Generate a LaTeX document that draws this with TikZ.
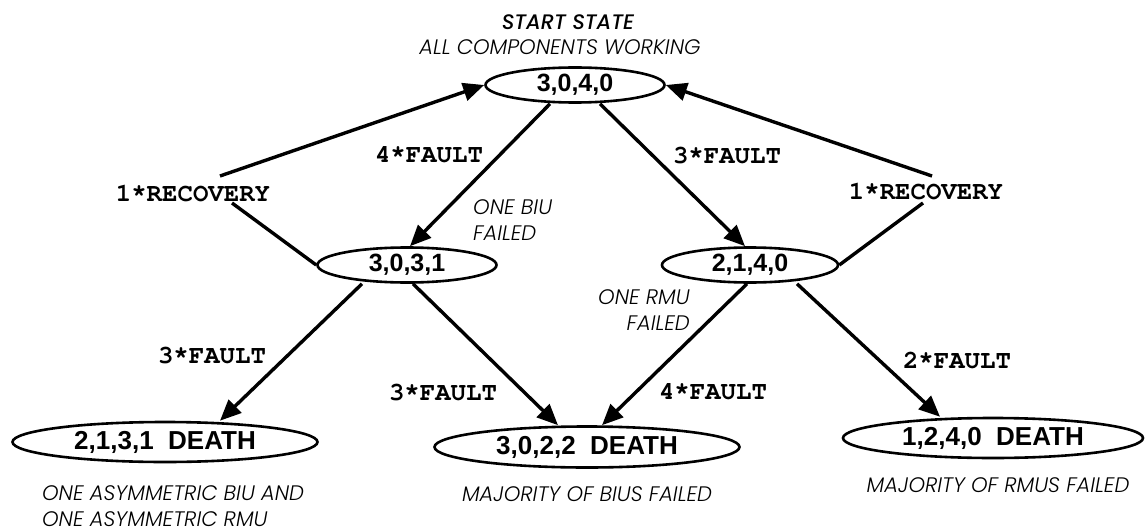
\documentclass[tikz,border=0pt]{standalone}
\usepackage{fontspec}
\usetikzlibrary{arrows.meta,shapes.geometric}
\newfontfamily\numfont{Liberation Sans}
\newfontfamily\labfont{TeX Gyre Cursor}
\newfontfamily\capfont{Poppins Light Italic}
\newfontfamily\titfont{Poppins Medium Italic}
\begin{document}
\begin{tikzpicture}[x=1pt,y=-1pt,
  statebox/.style={ellipse, draw, line width=2.6pt, inner sep=0pt,
    minimum width=179pt, minimum height=35pt,
    font=\numfont\bfseries\fontsize{25}{25}\selectfont},
  deathbox/.style={ellipse, draw, line width=2.6pt, inner sep=0pt,
    minimum width=305pt, minimum height=40pt,
    font=\numfont\bfseries\fontsize{26}{26}\selectfont},
  lab/.style={inner sep=0pt, font=\labfont\bfseries\fontsize{25.7}{26}\selectfont},
  captxt/.style={inner sep=0pt, font=\capfont\fontsize{21}{26}\selectfont},
  conn/.style={line width=3.4pt},
  arr/.style={conn, -{Triangle[length=21pt,width=18pt]}}]
\useasboundingbox (0,0) rectangle (1145,532);

% states
\node[statebox] (S3040) at (575,85) {3,0,4,0};
\node[statebox] (S3031) at (407,265) {3,0,3,1};
\node[statebox, minimum width=176pt] (S2140) at (750,265) {2,1,4,0};
\node[deathbox] (D2131) at (165,442) {2,1,3,1\ \ DEATH};
\node[deathbox, minimum height=41pt] (D3022) at (587,447) {3,0,2,2\ \ DEATH};
\node[deathbox, minimum width=300pt] (D1240) at (993,438) {1,2,4,0\ \ DEATH};

% captions
\node[inner sep=0pt, font=\titfont\fontsize{21}{26}\selectfont] (tit) at (568,22) {START STATE};
\node[captxt] (allw) at (560,47) {ALL COMPONENTS WORKING};
\node[captxt, align=left, anchor=west] (biu) at (473,220) {ONE BIU\\FAILED};
\node[captxt, align=right, anchor=east] (rmu) at (690,310) {ONE RMU\\FAILED};
\node[captxt, align=left, anchor=west] (asym) at (42,506) {ONE ASYMMETRIC BIU AND\\ONE ASYMMETRIC RMU};
\node[captxt] (mbius) at (587,494) {MAJORITY OF BIUS FAILED};
\node[captxt] (mrmus) at (998,485) {MAJORITY OF RMUS FAILED};

% connector labels
\node[lab] (recL) at (193,193) {1*RECOVERY};
\node[lab] (recR) at (926,191) {1*RECOVERY};
\node[lab] (f4t) at (429,155) {4*FAULT};
\node[lab] (f3t) at (727,155) {3*FAULT};
\node[lab] (f3l) at (212,355) {3*FAULT};
\node[lab] (f3m) at (443,392) {3*FAULT};
\node[lab] (f4m) at (713,392) {4*FAULT};
\node[lab] (f2r) at (957,360) {2*FAULT};

\coordinate (recLa) at (232,203);
\coordinate (recLb) at (220,176);
\coordinate (recRa) at (923,203);
\coordinate (recRb) at (932,176);

% fault transitions
\draw[arr] ([xshift=-25pt]S3040.south) -- ([xshift=3pt]S3031.north);
\draw[arr] ([xshift=25pt]S3040.south) -- ([xshift=-5pt]S2140.north);
\draw[arr] ([xshift=-45pt]S3031.south) -- ([xshift=55pt]D2131.north);
\draw[arr] ([xshift=6pt]S3031.south) -- ([xshift=-29pt]D3022.north);
\draw[arr] ([xshift=-3pt]S2140.south) -- ([xshift=15pt]D3022.north);
\draw[arr] ([xshift=47pt]S2140.south) -- ([xshift=-53pt]D1240.north);

% recoveries
\draw[conn] (S3031.west) -- (recLa);
\draw[arr] (recLb) -- (S3040.west);
\draw[conn] (S2140.east) -- (recRa);
\draw[arr] (recRb) -- (S3040.east);
\end{tikzpicture}
\end{document}
